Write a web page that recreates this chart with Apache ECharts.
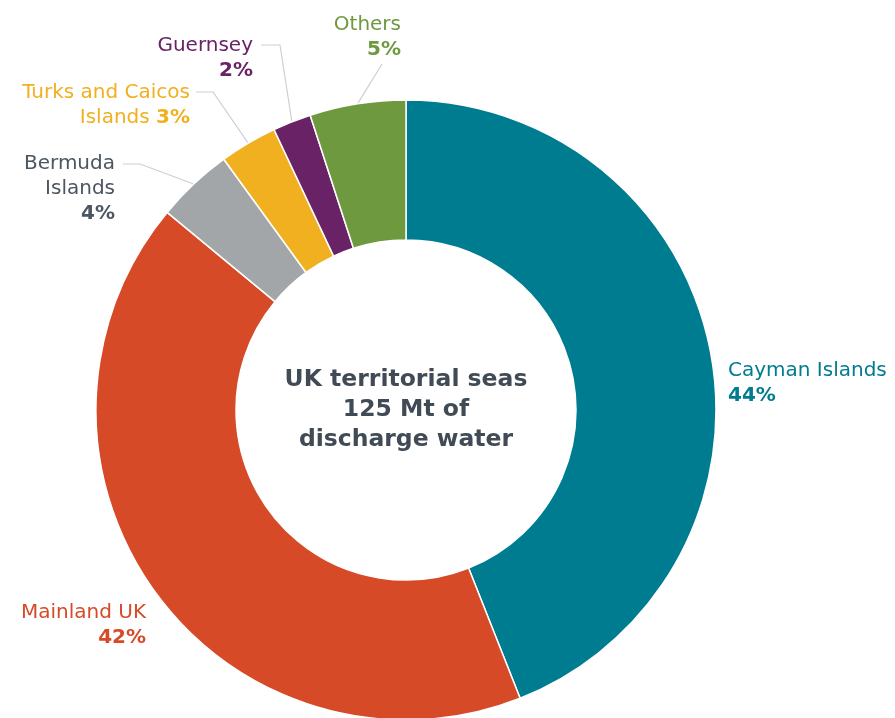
<!DOCTYPE html>
<html><head><meta charset="utf-8">
<script src="https://cdn.jsdelivr.net/npm/echarts@6/dist/echarts.min.js"></script>
<style>html,body{margin:0;padding:0;background:#fff}#c{width:895px;height:718px}</style>
</head><body><div id="c"></div>
<script>
// Data
const categories = ['Cayman Islands', 'Mainland UK', 'Bermuda Islands', 'Turks and Caicos Islands', 'Guernsey', 'Others'];
const shares = [44, 42, 4, 3, 2, 5];
const colors = ['#007C91', '#D64A27', '#A3A6A9', '#F0B020', '#6A2266', '#6E993F'];
const labelColors = ['#007C91', '#D64A27', '#4B5660', '#F0B020', '#6A2266', '#6E993F'];
const centerText = 'UK territorial seas\n125 Mt of\ndischarge water';

// label placement (layout only)
const labelPlace = [
  {x: 728, y: 358, align: 'left'},
  {x: 146, y: 600, align: 'right'},
  {x: 115, y: 151, align: 'right', line: [[140, 164], [123, 164]]},
  {x: 190, y: 80, align: 'right', line: [[213, 92], [196, 92]]},
  {x: 253, y: 33, align: 'right', line: [[280, 45], [261, 45]]},
  {x: 401, y: 12, align: 'right', line: [[382, 64]]}
];

function labelText(i) {
  const n = categories[i], p = shares[i] + '%';
  if (i === 2) return '{n|Bermuda}\n{n|Islands}\n{p|' + p + '}';
  if (i === 3) return '{n|Turks and Caicos}\n{n|Islands }{p|' + p + '}';
  return '{n|' + n + '}\n{p|' + p + '}';
}

const FONT = '"DejaVu Sans"';
const data = categories.map((c, i) => ({
  name: c,
  value: shares[i],
  itemStyle: {color: colors[i]},
  label: {
    formatter: labelText(i),
    rich: {
      n: {color: labelColors[i], fontSize: 20, fontFamily: FONT, lineHeight: 25},
      p: {color: labelColors[i], fontSize: 20, fontWeight: 'bold', fontFamily: FONT, lineHeight: 25}
    },
    align: labelPlace[i].align
  },
  labelLine: {show: !!labelPlace[i].line}
}));

const chart = echarts.init(document.getElementById('c'), null, {renderer: 'canvas'});
chart.setOption({
  animation: false,
  graphic: [{
    type: 'text',
    x: 406, y: 410,
    style: {
      text: centerText,
      align: 'center', verticalAlign: 'middle',
      font: 'bold 23.5px ' + FONT,
      lineHeight: 30,
      fill: '#414B55'
    }
  }],
  series: [{
    type: 'pie',
    center: [406, 410],
    radius: [170, 310],
    startAngle: 90,
    clockwise: true,
    avoidLabelOverlap: false,
    itemStyle: {borderColor: '#fff', borderWidth: 1.5},
    label: {show: true, position: 'outside'},
    labelLine: {show: true, length: 10, length2: 10, lineStyle: {color: '#CFCFCF', width: 1.2}},
    labelLayout: function (params) {
      const p = labelPlace[params.dataIndex];
      const out = {x: p.x, y: p.y, align: p.align, verticalAlign: 'top'};
      if (p.line && params.labelLinePoints) {
        out.labelLinePoints = [params.labelLinePoints[0]].concat(p.line);
      }
      return out;
    },
    data: data
  }]
});
</script></body></html>
